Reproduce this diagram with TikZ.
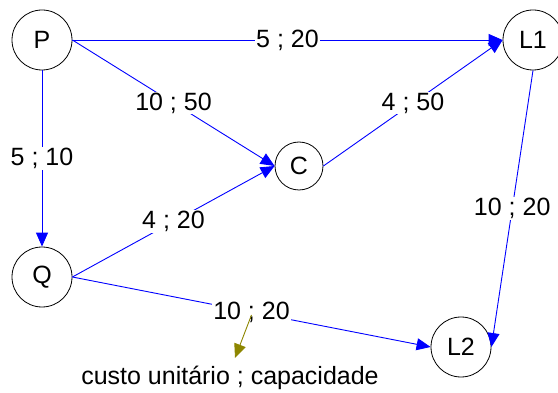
\documentclass[tikz,border=0pt]{standalone}
\usepackage{fontspec}
\setmainfont{Liberation Sans}
\usetikzlibrary{positioning, arrows.meta}

\begin{document}
\begin{tikzpicture}[
    x=1pt, y=-1pt,
    % Define common styles
        site/.style={draw, circle, fill=white, line width=0.8pt, minimum size=60pt, inner sep=0pt, font=\fontsize{25}{30}\selectfont},
        hub/.style={site, minimum size=48pt},
        cost/.style={fill=white, text=black, inner sep=1pt, font=\fontsize{25}{30}\selectfont},
        arrow/.style={-{Triangle[length=14pt, width=12pt]}, blue, line width=0.9pt},
        notearrow/.style={-{Triangle[length=14pt, width=12pt]}, olive, line width=0.9pt}
    ]
        \useasboundingbox (0,0) rectangle (558,393);

        % Sites of the network
        \node[site] (P) at (42,40) {P};
        \node[site] (Q) at (42,277) {Q};
        \node[hub] (C) at (299,166) {C};
        \node[site] (L1) at (533,40) {L1};
        \node[site] (L2) at (461,347) {L2};

        % Draw the arcs with their labels
        \draw[arrow] (P.east) -- (L1.west) node[cost, midway] (wPL1) {5 ; 20};
        \draw[arrow] (P.east) -- (C.west) node[cost, midway] (wPC) {10 ; 50};
        \draw[arrow] (P.south) -- (Q.north) node[cost, midway] (wPQ) {5 ; 10};
        \draw[arrow] (Q.east) -- (C.west) node[cost, midway] (wQC) {4 ; 20};
        \draw[arrow] (C.east) -- (L1.west) node[cost, midway] (wCL1) {4 ; 50};
        \draw[arrow] (Q.east) -- (L2.west) node[cost, midway] (wQL2) {10 ; 20};
        \draw[arrow] (L1.south) -- (L2.east) node[cost, midway] (wL1L2) {10 ; 20};

        % Legend
        \node[cost, fill=none] (legend) at (230,378) {custo unitário ; capacidade};
        \coordinate (tip) at (235,358);
        \draw[notearrow] ([yshift=-3pt]wQL2.center) -- (tip);

    \end{tikzpicture}
\end{document}
